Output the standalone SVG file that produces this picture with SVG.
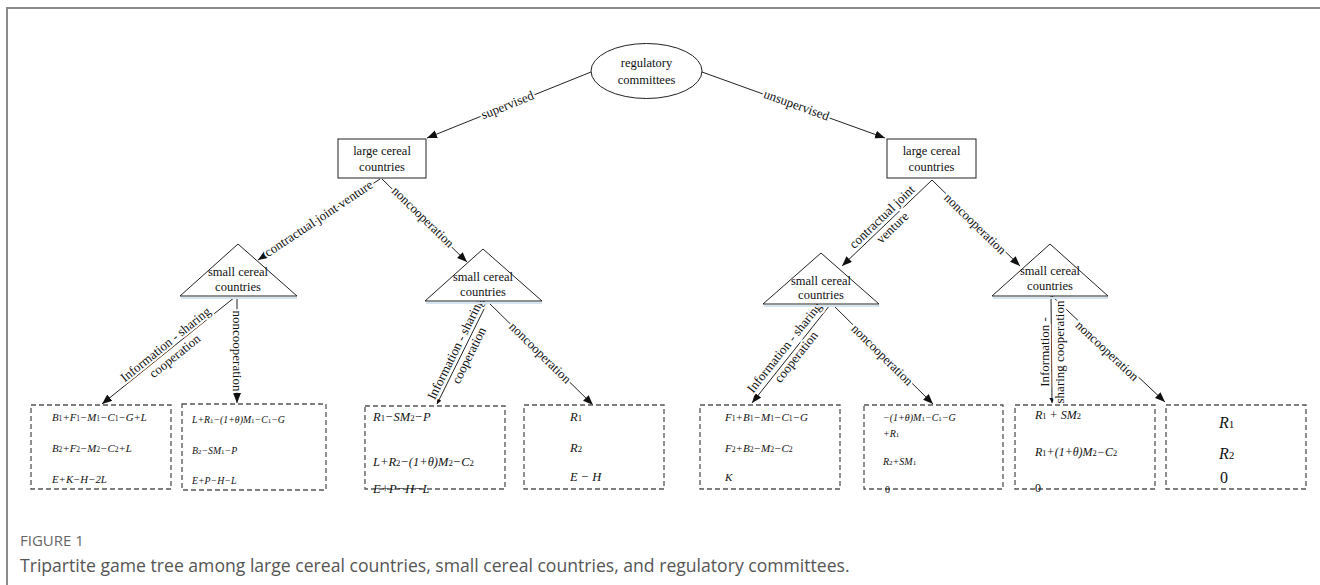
<svg xmlns="http://www.w3.org/2000/svg" width="1320" height="585" viewBox="0 0 1320 585">
<style>
.nd{fill:#fff;stroke:#222;stroke-width:1}
.nt{font-family:"Liberation Serif",serif;font-size:12.5px;fill:#111;text-anchor:middle}
.e{stroke:#222;stroke-width:1;fill:none}
.ea{marker-end:url(#ah)}
.es{marker-end:url(#as)}
.lb{font-family:"Liberation Serif",serif;font-size:13px;fill:#111;text-anchor:middle;stroke:#fff;stroke-width:4;paint-order:stroke;stroke-linejoin:round}
.bx{fill:none;stroke:#555;stroke-width:1.3;stroke-dasharray:5 3}
.sh{stroke:#d6e4f2;stroke-width:2}
.f{font-family:"Liberation Serif",serif;font-style:italic;fill:#111}
.s{font-size:0.7em;font-style:normal}
.cap1{font-family:"Open Sans",sans-serif;font-size:15px;fill:#666}
.cap2{font-family:"Open Sans",sans-serif;font-size:17.6px;fill:#555}
</style>
<defs>
<marker id="ah" markerUnits="userSpaceOnUse" markerWidth="11" markerHeight="9" refX="10" refY="4" orient="auto"><path d="M0,0 L10,4 L0,8 z" fill="#111"/></marker>
<marker id="as" markerUnits="userSpaceOnUse" markerWidth="6" markerHeight="6" refX="5" refY="2.5" orient="auto"><path d="M0,0 L5,2.5 L0,5 z" fill="#111"/></marker>
</defs>
<rect width="1320" height="585" fill="#fff"/>
<path d="M7,585 V8 H1320" fill="none" stroke="#8a8a8a" stroke-width="2"/>

<g id="edges">
<line class="e ea" x1="591" y1="72" x2="427" y2="138"/>
<line class="e ea" x1="702" y1="72" x2="885" y2="138"/>
<line class="e ea" x1="380" y1="179" x2="258" y2="260"/>
<line class="e ea" x1="382" y1="179" x2="467" y2="262"/>
<line class="e ea" x1="235" y1="297" x2="102" y2="404"/>
<line class="e ea" x1="237" y1="297" x2="237" y2="403"/>
<line class="e es" x1="487" y1="303" x2="437" y2="404"/>
<line class="e ea" x1="488" y1="302" x2="593" y2="405"/>
<line class="e ea" x1="932" y1="180" x2="842" y2="266"/>
<line class="e ea" x1="932" y1="180" x2="1020" y2="266"/>
<line class="e ea" x1="830" y1="305" x2="752" y2="403"/>
<line class="e ea" x1="833" y1="305" x2="933" y2="404"/>
<line class="e es" x1="1051" y1="296" x2="1052" y2="403"/>
<line class="e ea" x1="1052" y1="296" x2="1165" y2="402"/>
<text class="lb" transform="translate(509,109) rotate(-21.9)">supervised</text>
<text class="lb" transform="translate(795,109) rotate(19.8)">unsupervised</text>
<text class="lb" transform="translate(321,222) rotate(-33.6)">contractual joint venture</text>
<text class="lb" transform="translate(420,220) rotate(44.3)">noncooperation</text>
<text class="lb" transform="translate(170,350) rotate(-38.8)"><tspan x="0" y="-3">Information - sharing</tspan><tspan x="0" y="12">cooperation</tspan></text>
<text class="lb" transform="translate(237,351) rotate(90)" y="4">noncooperation</text>
<text class="lb" transform="translate(462,352) rotate(-63.7)"><tspan x="0" y="-3">Information - sharing</tspan><tspan x="0" y="12">cooperation</tspan></text>
<text class="lb" transform="translate(540,353) rotate(44.5)" y="4">noncooperation</text>
<text class="lb" transform="translate(887,222) rotate(-43.7)"><tspan x="0" y="-3">contractual joint</tspan><tspan x="0" y="12">venture</tspan></text>
<text class="lb" transform="translate(975,224) rotate(44.3)" y="4">noncooperation</text>
<text class="lb" transform="translate(790,352) rotate(-51.5)"><tspan x="0" y="-3">Information - sharing</tspan><tspan x="0" y="12">cooperation</tspan></text>
<text class="lb" transform="translate(882,355) rotate(44.7)" y="4">noncooperation</text>
<text class="lb" transform="translate(1052,352) rotate(-90)"><tspan x="0" y="-3">Information -</tspan><tspan x="0" y="12">sharing cooperation</tspan></text>
<text class="lb" transform="translate(1107,351) rotate(43.2)" y="4">noncooperation</text>
</g>

<g id="regulatory">
<ellipse class="nd" cx="646.5" cy="71" rx="55.5" ry="27.5"/>
<text class="nt" x="646.5" y="67">regulatory</text>
<text class="nt" x="646.5" y="84">committees</text>
</g>
<g id="large-left">
<rect class="nd" x="338" y="139" width="88" height="39"/>
<text class="nt" x="382" y="155">large cereal</text>
<text class="nt" x="382" y="171">countries</text>
</g>
<g id="large-right">
<rect class="nd" x="887" y="139" width="89" height="39"/>
<text class="nt" x="931.5" y="155">large cereal</text>
<text class="nt" x="931.5" y="171">countries</text>
</g>
<g id="small-1">
<line class="sh" x1="181" y1="298" x2="297" y2="298"/>
<path class="nd" d="M238,244 L297,296 L180,296 z"/>
<text class="nt" x="238" y="276">small cereal</text>
<text class="nt" x="238" y="291">countries</text>
</g>
<g id="small-2">
<line class="sh" x1="426" y1="303" x2="542" y2="303"/>
<path class="nd" d="M483,249 L542,301 L425,301 z"/>
<text class="nt" x="483" y="281">small cereal</text>
<text class="nt" x="483" y="296">countries</text>
</g>
<g id="small-3">
<line class="sh" x1="764" y1="306" x2="879" y2="306"/>
<path class="nd" d="M821,253 L879,304 L763,304 z"/>
<text class="nt" x="821" y="285">small cereal</text>
<text class="nt" x="821" y="299">countries</text>
</g>
<g id="small-4">
<line class="sh" x1="993" y1="298" x2="1108" y2="298"/>
<path class="nd" d="M1050,244 L1108,296 L992,296 z"/>
<text class="nt" x="1050" y="275">small cereal</text>
<text class="nt" x="1050" y="290">countries</text>
</g>

<g id="payoff-1">
<rect class="bx" x="31" y="405" width="140" height="84"/>
<text class="f" font-size="10.8"><tspan x="52" y="421">B<tspan class="s">1</tspan>+F<tspan class="s">1</tspan>−M<tspan class="s">1</tspan>−C<tspan class="s">1</tspan>−G+L</tspan><tspan x="52" y="452">B<tspan class="s">2</tspan>+F<tspan class="s">2</tspan>−M<tspan class="s">2</tspan>−C<tspan class="s">2</tspan>+L</tspan><tspan x="52" y="483">E+K−H−2L</tspan></text>
</g>
<g id="payoff-2">
<rect class="bx" x="182" y="404" width="144" height="86"/>
<text class="f" font-size="9.8"><tspan x="192" y="423">L+R<tspan class="s">1</tspan>−(1+θ)M<tspan class="s">1</tspan>−C<tspan class="s">1</tspan>−G</tspan><tspan x="192" y="454">B<tspan class="s">2</tspan>−SM<tspan class="s">1</tspan>−P</tspan><tspan x="192" y="484">E+P−H−L</tspan></text>
</g>
<g id="payoff-3">
<rect class="bx" x="365" y="406" width="140" height="83"/>
<text class="f" font-size="12.5"><tspan x="373" y="421">R<tspan class="s">1</tspan>−SM<tspan class="s">2</tspan>−P</tspan><tspan x="373" y="466">L+R<tspan class="s">2</tspan>−(1+θ)M<tspan class="s">2</tspan>−C<tspan class="s">2</tspan></tspan><tspan x="373" y="493">E+P−H−L</tspan></text>
</g>
<g id="payoff-4">
<rect class="bx" x="524" y="405" width="140" height="84"/>
<text class="f" font-size="12.5"><tspan x="570" y="421">R<tspan class="s">1</tspan></tspan><tspan x="570" y="452">R<tspan class="s">2</tspan></tspan><tspan x="570" y="481">E − H</tspan></text>
</g>
<g id="payoff-5">
<rect class="bx" x="700" y="405" width="140" height="84"/>
<text class="f" font-size="11"><tspan x="725" y="421">F<tspan class="s">1</tspan>+B<tspan class="s">1</tspan>−M<tspan class="s">1</tspan>−C<tspan class="s">1</tspan>−G</tspan><tspan x="725" y="452">F<tspan class="s">2</tspan>+B<tspan class="s">2</tspan>−M<tspan class="s">2</tspan>−C<tspan class="s">2</tspan></tspan><tspan x="725" y="481">K</tspan></text>
</g>
<g id="payoff-6">
<rect class="bx" x="864" y="405" width="139" height="84"/>
<text class="f" font-size="10"><tspan x="883" y="421">−(1+θ)M<tspan class="s">1</tspan>−C<tspan class="s">1</tspan>−G</tspan><tspan x="883" y="437">+R<tspan class="s">1</tspan></tspan><tspan x="883" y="465">R<tspan class="s">2</tspan>+SM<tspan class="s">1</tspan></tspan><tspan x="885" y="493" font-style="normal">0</tspan></text>
</g>
<g id="payoff-7">
<rect class="bx" x="1015" y="405" width="140" height="84"/>
<text class="f" font-size="12"><tspan x="1035" y="419">R<tspan class="s">1</tspan> + SM<tspan class="s">2</tspan></tspan><tspan x="1035" y="456">R<tspan class="s">1</tspan>+(1+θ)M<tspan class="s">2</tspan>−C<tspan class="s">2</tspan></tspan><tspan x="1035" y="492" font-style="normal">0</tspan></text>
</g>
<g id="payoff-8">
<rect class="bx" x="1166" y="405" width="140" height="84"/>
<text class="f" font-size="16"><tspan x="1219" y="428">R<tspan class="s">1</tspan></tspan><tspan x="1219" y="459">R<tspan class="s">2</tspan></tspan><tspan x="1220" y="483" font-style="normal">0</tspan></text>
</g>

<text class="cap1" x="20" y="546">FIGURE 1</text>
<text class="cap2" x="20" y="572">Tripartite game tree among large cereal countries, small cereal countries, and regulatory committees.</text>
</svg>
